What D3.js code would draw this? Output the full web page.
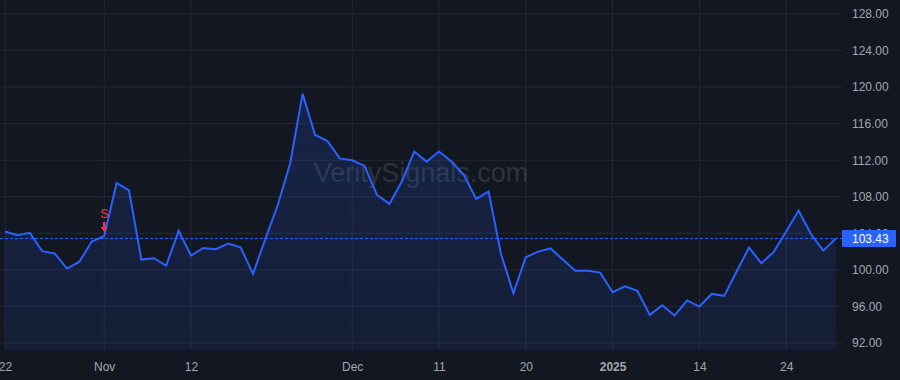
<!DOCTYPE html>
<html>
<head>
<meta charset="utf-8">
<script src="https://cdn.jsdelivr.net/npm/d3@7"></script>
<style>
  body{margin:0;background:#131722;}
  svg{display:block;font-family:"Liberation Sans",Arial,sans-serif;}
</style>
</head>
<body>
<svg id="chart"></svg>
<script>
// trading days shown on the chart
const dates=["2024-10-22","2024-10-23","2024-10-24","2024-10-25","2024-10-28","2024-10-29","2024-10-30","2024-10-31",
  "2024-11-01","2024-11-04","2024-11-05","2024-11-06","2024-11-07","2024-11-08","2024-11-11","2024-11-12","2024-11-13",
  "2024-11-14","2024-11-15","2024-11-18","2024-11-19","2024-11-20","2024-11-21","2024-11-22","2024-11-25","2024-11-26",
  "2024-11-27","2024-11-29","2024-12-02","2024-12-03","2024-12-04","2024-12-05","2024-12-06","2024-12-09","2024-12-10",
  "2024-12-11","2024-12-12","2024-12-13","2024-12-16","2024-12-17","2024-12-18","2024-12-19","2024-12-20","2024-12-23",
  "2024-12-24","2024-12-26","2024-12-27","2024-12-30","2024-12-31","2025-01-02","2025-01-03","2025-01-06","2025-01-07",
  "2025-01-08","2025-01-10","2025-01-13","2025-01-14","2025-01-15","2025-01-16","2025-01-17","2025-01-21","2025-01-22",
  "2025-01-23","2025-01-24","2025-01-27","2025-01-28","2025-01-29","2025-01-30"];

const prices=[104.2,103.8,104.05,102.05,101.8,100.15,100.9,103.1,
  103.7,109.5,108.7,101.13,101.28,100.47,104.27,101.57,102.4,
  102.26,102.88,102.48,99.56,103.4,107.1,111.67,119.26,114.77,
  114.1,112.2,112.0,111.38,108.2,107.22,109.66,112.95,111.85,
  112.95,111.85,110.4,107.77,108.57,101.75,97.45,101.39,102.0,
  102.35,101.1,99.9,99.9,99.7,97.56,98.2,97.7,95.08,
  96.14,95.0,96.66,95.99,97.37,97.16,99.82,102.44,100.73,
  101.97,104.2,106.49,103.9,102.11,103.43];

const xTickDates=["2024-10-22","2024-11-01","2024-11-12","2024-12-02","2024-12-11","2024-12-20","2025-01-02","2025-01-14","2025-01-24"];
const xTickLabels=["22","Nov","12","Dec","11","20","2025","14","24"];
const yTicks=[92,96,100,104,108,112,116,120,124,128];

const signalDates=["2024-11-01"];
const signalLabels=["S"];

const lastPrice=prices[prices.length-1];

const width=900,height=380;
const plotRight=842, plotBottom=350;

const svg=d3.select("#chart").attr("width",width).attr("height",height);
svg.append("rect").attr("width",width).attr("height",height).attr("fill","#131722");

const x=d3.scaleLinear().domain([0,dates.length-1]).range([5,835.8]);
const y=d3.scaleLinear().domain([92,128]).range([343,14]);
const idx=d=>dates.indexOf(d);

// grid
const grid=svg.append("g");
grid.selectAll(".hg").data(yTicks).join("line")
  .attr("x1",0).attr("x2",plotRight)
  .attr("y1",d=>y(d)).attr("y2",d=>y(d))
  .attr("stroke","#252935").attr("stroke-width",1);
grid.selectAll(".vg").data(xTickDates).join("line")
  .attr("x1",d=>x(idx(d))).attr("x2",d=>x(idx(d)))
  .attr("y1",0).attr("y2",plotBottom)
  .attr("stroke","#252935").attr("stroke-width",1);

// watermark
svg.append("text")
  .attr("x",421).attr("y",182)
  .attr("text-anchor","middle")
  .attr("font-size",27)
  .attr("fill","rgba(150,155,170,0.22)")
  .text("VeritySignals.com");

// area + line
const defs=svg.append("defs");
const grad=defs.append("linearGradient").attr("id","fillGrad").attr("x1",0).attr("x2",0).attr("y1",0).attr("y2",1);
grad.append("stop").attr("offset","0%").attr("stop-color","#2962ff").attr("stop-opacity",0.17);
grad.append("stop").attr("offset","100%").attr("stop-color","#2962ff").attr("stop-opacity",0.09);

const area=d3.area().x((d,i)=>x(i)).y0(plotBottom).y1(d=>y(d));
const line=d3.line().x((d,i)=>x(i)).y(d=>y(d));

svg.append("path").datum(prices).attr("d",area).attr("fill","url(#fillGrad)");
svg.append("path").datum(prices).attr("d",line)
  .attr("fill","none").attr("stroke","#2962ff").attr("stroke-width",2).attr("stroke-linejoin","miter");

// last price dashed line
svg.append("line")
  .attr("x1",0).attr("x2",plotRight)
  .attr("y1",y(lastPrice)).attr("y2",y(lastPrice))
  .attr("stroke","#2962ff").attr("stroke-width",1).attr("stroke-dasharray","3,2");

// sell signal
signalDates.forEach((d,k)=>{
  const sx=x(idx(d)), sy=y(prices[idx(d)]);
  const tip=sy-4;
  svg.append("path")
    .attr("d",`M${sx-1.3},${tip-10}L${sx+1.3},${tip-10}L${sx+1.3},${tip-5}L${sx+3.6},${tip-5}L${sx},${tip}L${sx-3.6},${tip-5}L${sx-1.3},${tip-5}Z`)
    .attr("fill","#f23645");
  svg.append("text")
    .attr("x",sx).attr("y",tip-14)
    .attr("text-anchor","middle")
    .attr("font-size",12)
    .attr("fill","#f23645")
    .text(signalLabels[k]);
});

// right axis
const yAxis=svg.append("g").attr("transform",`translate(${plotRight},0)`)
  .call(d3.axisRight(y).tickValues(yTicks).tickFormat(d3.format(".2f")).tickSize(0).tickPadding(10));
yAxis.select(".domain").remove();
yAxis.selectAll("text").attr("fill","#a3a6af").attr("font-size",12).attr("font-family","Liberation Sans, Arial, sans-serif");

// bottom axis
const xAxis=svg.append("g").attr("transform",`translate(0,${plotBottom})`)
  .call(d3.axisBottom(x).tickValues(xTickDates.map(idx)).tickFormat((d,i)=>xTickLabels[i]).tickSize(0).tickPadding(12));
xAxis.select(".domain").remove();
xAxis.selectAll("text").attr("fill","#a3a6af").attr("font-size",12).attr("font-family","Liberation Sans, Arial, sans-serif")
  .attr("font-weight",(d,i)=>xTickLabels[i]==="2025"?"bold":"normal");

// last price label
const lbl=svg.append("g").attr("transform",`translate(${plotRight},${y(lastPrice)})`);
lbl.append("rect").attr("x",0).attr("y",-8.5).attr("width",54).attr("height",17).attr("rx",1).attr("fill","#2962ff");
lbl.append("text").attr("x",10).attr("y",0).attr("dy","0.35em")
  .attr("fill","#ffffff").attr("font-size",12)
  .text(lastPrice.toFixed(2));
</script>
</body>
</html>
